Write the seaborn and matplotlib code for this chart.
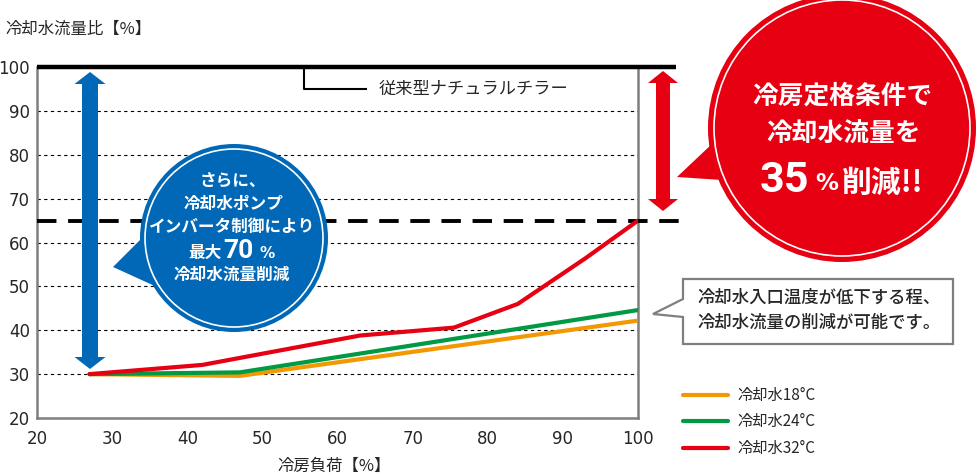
import numpy as np
import pandas as pd
import matplotlib
matplotlib.use("Agg")
import matplotlib.pyplot as plt
import seaborn as sns
from matplotlib.patches import Circle, Polygon

# ---------------- data ----------------
load_18 = [27, 47, 100]
flow_18 = [30, 29.6, 42.2]
load_24 = [27, 47, 100]
flow_24 = [30, 30.4, 44.6]
load_32 = [27, 42, 63, 75.5, 84, 93, 100]
flow_32 = [30, 32.1, 38.8, 40.6, 46, 56.4, 65]
series_names = ["冷却水18°C", "冷却水24°C", "冷却水32°C"]
series_colors = ["#F39800", "#009944", "#E60012"]
x_ticks = [20, 30, 40, 50, 60, 70, 80, 90, 100]
y_ticks = [20, 30, 40, 50, 60, 70, 80, 90, 100]
conventional_level = 100   # 従来型
rated_level = 65           # 定格条件

y_title = "冷却水流量比【%】"
x_title = "冷房負荷【%】"
conv_label = "従来型ナチュラルチラー"
callout_lines = ["冷却水入口温度が低下する程、", "冷却水流量の削減が可能です。"]

df = pd.concat([
    pd.DataFrame({"load": load_18, "flow": flow_18, "series": series_names[0]}),
    pd.DataFrame({"load": load_24, "flow": flow_24, "series": series_names[1]}),
    pd.DataFrame({"load": load_32, "flow": flow_32, "series": series_names[2]}),
], ignore_index=True)

# ---------------- style ----------------
sns.set_theme(style="white")
JP = "Noto Sans CJK JP"
plt.rcParams["font.family"] = [JP, "DejaVu Sans"]
NUM = ["Liberation Sans Narrow", "DejaVu Sans"]
LAT = ["DejaVu Sans"]

W, H = 976, 476
fig = plt.figure(figsize=(W / 100, H / 100), dpi=100)
fig.patch.set_facecolor("white")

ax_l, ax_r, ax_t, ax_b = 37, 638, 67, 418
ax = fig.add_axes([ax_l / W, 1 - ax_b / H, (ax_r - ax_l) / W, (ax_b - ax_t) / H])
ax.set_facecolor("white")

pal = dict(zip(series_names, series_colors))
sns.lineplot(data=df, x="load", y="flow", hue="series", hue_order=series_names,
             palette=pal, estimator=None, sort=False, lw=3.0, ax=ax, zorder=5)

ax.set_xlim(20, 100)
ax.set_ylim(20, 100)
ax.set_xticks(x_ticks)
ax.set_yticks(y_ticks)
ax.set_xticklabels([str(v) for v in x_ticks], family=NUM, fontsize=12)
ax.set_yticklabels([str(v) for v in y_ticks], family=NUM, fontsize=12)
ax.tick_params(axis="both", length=0)
ax.tick_params(axis="y", pad=5)
ax.tick_params(axis="x", pad=9)
ax.set_xlabel("")
ax.set_ylabel("")
ax.yaxis.grid(True, linestyle=(0, (3, 3)), color="black", lw=0.8)
ax.xaxis.grid(False)
for s in ["left", "bottom", "right"]:
    ax.spines[s].set_color("#7f7f7f")
    ax.spines[s].set_linewidth(1.8)
ax.spines["top"].set_visible(False)

# reference lines (extend past right border)
ax.hlines(conventional_level, 20, 105.1, color="black", lw=3.2, clip_on=False, zorder=6)
ax.hlines(rated_level, 20, 106.0, color="black", lw=2.8, linestyles=(0, (5, 3)),
          clip_on=False, zorder=4)

sns.move_legend(ax, "upper left", bbox_to_anchor=(683 / W, 1 - 387 / H),
                bbox_transform=fig.transFigure, frameon=False, title=None,
                fontsize=11, handlelength=2.95, handletextpad=0.6,
                labelspacing=0.62, borderpad=0, borderaxespad=0)
for ln in ax.get_legend().get_lines():
    ln.set_linewidth(3.0)

# axis titles
fig.text(5 / W, 1 - 29 / H, y_title, fontsize=11.8, ha="left", va="center")
fig.text(334 / W, 1 - 466 / H, x_title, fontsize=11.8, ha="center", va="center")

# ---------------- overlay (pixel coordinates) ----------------
ov = fig.add_axes([0, 0, 1, 1], zorder=10)
ov.set_xlim(0, W)
ov.set_ylim(H, 0)
ov.axis("off")
ov.patch.set_alpha(0)

BLUE = "#0068B7"
RED = "#E60012"


def double_arrow(cx, y1, y2, w, hw, hl, color):
    pts = [(cx, y1), (cx + hw / 2, y1 + hl), (cx + w / 2, y1 + hl),
           (cx + w / 2, y2 - hl), (cx + hw / 2, y2 - hl), (cx, y2),
           (cx - hw / 2, y2 - hl), (cx - w / 2, y2 - hl), (cx - w / 2, y1 + hl),
           (cx - hw / 2, y1 + hl)]
    ov.add_patch(Polygon(pts, closed=True, fc=color, ec="none", zorder=3))


double_arrow(90, 72, 369, 16, 31, 12, BLUE)
double_arrow(663, 71, 211, 14, 30, 12, RED)

# conventional chiller label
ov.plot([304, 304, 367], [67, 89, 89], color="black", lw=1.5, zorder=2,
        solid_capstyle="butt")
ov.text(379, 89, conv_label, fontsize=12.4, ha="left", va="center")

# blue bubble
ov.add_patch(Polygon([(113, 267), (152, 228), (168, 292)], closed=True,
                     fc=BLUE, ec="none", zorder=4))
ov.add_patch(Circle((234, 238), 94, fc=BLUE, ec="none", zorder=4))
ov.add_patch(Circle((234, 238), 89, fc="none", ec="white", lw=1.2, zorder=5))
bt = dict(color="white", fontweight="bold", va="center", zorder=6)
ov.text(233, 182, "さらに、", fontsize=12, ha="center", **bt)
ov.text(233, 204, "冷却水ポンプ", fontsize=12, ha="center", **bt)
ov.text(232, 227, "インバータ制御により", fontsize=12, ha="center", **bt)
ov.text(222, 253, "最大", fontsize=12, ha="right", **bt)
ov.text(223, 251, "70", fontsize=19, ha="left", family=["Roboto", "DejaVu Sans"], **bt)
ov.text(259, 253, "%", fontsize=11, ha="left", family=LAT, **bt)
ov.text(232, 275, "冷却水流量削減", fontsize=12, ha="center", **bt)

# red bubble
ov.add_patch(Polygon([(677, 177), (713, 143), (722, 180)], closed=True,
                     fc=RED, ec="none", zorder=4))
ov.add_patch(Circle((842, 128), 134, fc=RED, ec="none", zorder=4))
ov.add_patch(Circle((842, 128), 128, fc="none", ec="white", lw=1.2, zorder=5))
ov.text(842, 96, "冷房定格条件で", fontsize=18.5, ha="center", **bt)
ov.text(844, 134, "冷却水流量を", fontsize=18.5, ha="center", **bt)
ov.text(809, 180, "35", fontsize=31, ha="right", family=["Roboto", "DejaVu Sans"], **bt)
ov.text(815, 183, "%", fontsize=16.5, ha="left", family=LAT, **bt)
ov.text(842, 183, "削減!!", fontsize=21.5, ha="left", **bt)

# callout box
ov.add_patch(Polygon([(683, 279), (953, 279), (953, 344), (683, 344), (683, 317),
                      (653, 314), (683, 299)], closed=True, fc="white",
                     ec="#7f7f7f", lw=1.6, zorder=4))
ov.text(697, 298, callout_lines[0], fontsize=12.5, ha="left", va="center",
        fontweight="medium", zorder=6)
ov.text(697, 323, callout_lines[1], fontsize=12.5, ha="left", va="center",
        fontweight="medium", zorder=6)

fig.savefig("out.png", dpi=100, facecolor="white")
